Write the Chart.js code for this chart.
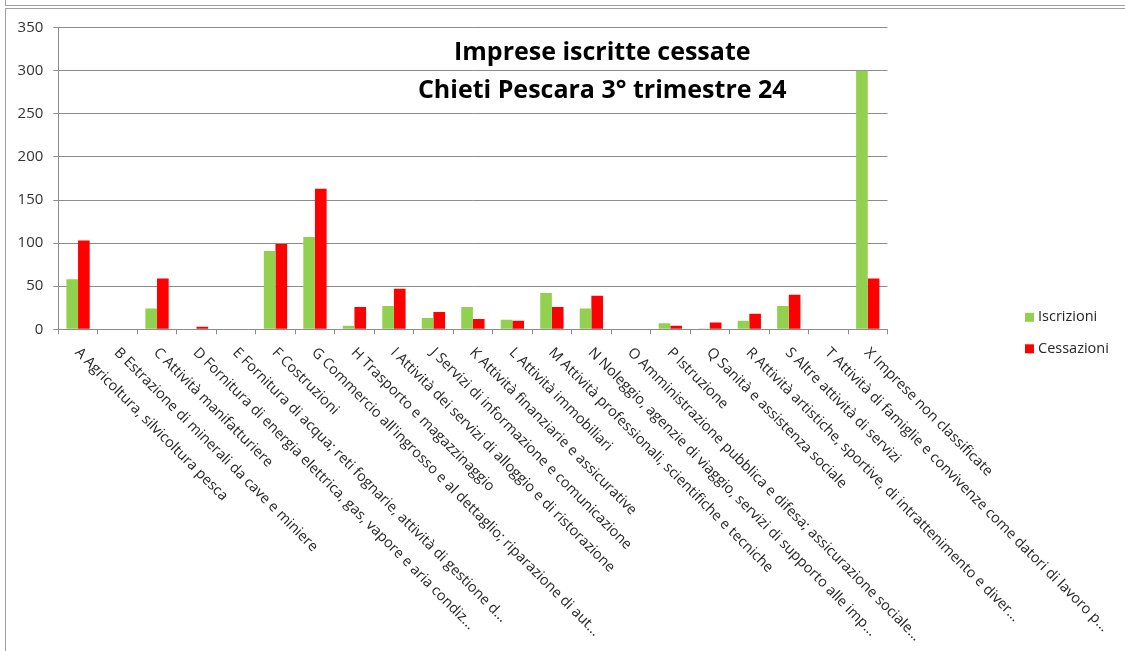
<!DOCTYPE html>
<html><head><meta charset="utf-8">
<script src="https://cdn.jsdelivr.net/npm/chart.js@4"></script>
<style>
html,body{margin:0;padding:0;background:#fff;}
#wrap{position:relative;width:1125px;height:651px;overflow:hidden;}
canvas{position:absolute;left:0;top:0;}
.ln{position:absolute;background:#a0a0a0;}
</style></head><body>
<div id="wrap">
<canvas id="c" width="1125" height="651"></canvas>
<div class="ln" style="left:5px;top:5px;width:1120px;height:1px"></div>
<div class="ln" style="left:5px;top:0;width:1px;height:5px"></div>
<div class="ln" style="left:5px;top:8px;width:1120px;height:1px"></div>
<div class="ln" style="left:5px;top:8px;width:1px;height:643px"></div>
</div>
<script>
const categories = [
  "A Agricoltura, silvicoltura pesca",
  "B Estrazione di minerali da cave e miniere",
  "C Attività manifatturiere",
  "D Fornitura di energia elettrica, gas, vapore e aria condiz...",
  "E Fornitura di acqua; reti fognarie, attività di gestione d...",
  "F Costruzioni",
  "G Commercio all'ingrosso e al dettaglio; riparazione di aut...",
  "H Trasporto e magazzinaggio",
  "I Attività dei servizi di alloggio e di ristorazione",
  "J Servizi di informazione e comunicazione",
  "K Attività finanziarie e assicurative",
  "L Attività immobiliari",
  "M Attività professionali, scientifiche e tecniche",
  "N Noleggio, agenzie di viaggio, servizi di supporto alle imp...",
  "O Amministrazione pubblica e difesa; assicurazione sociale...",
  "P Istruzione",
  "Q Sanità e assistenza sociale",
  "R Attività artistiche, sportive, di intrattenimento e diver...",
  "S Altre attività di servizi",
  "T Attività di famiglie e convivenze come datori di lavoro p...",
  "X Imprese non classificate"
];
const iscrizioni = [58, 0, 24, 0, 0, 91, 107, 4, 27, 13, 26, 11, 42, 24, 0, 7, 1, 10, 27, 0, 300];
const cessazioni = [103, 0, 59, 3, 0, 99, 163, 26, 47, 20, 12, 10, 26, 39, 0, 4, 8, 18, 40, 0, 59];
const seriesNames = ["Iscrizioni", "Cessazioni"];
const yMin = 0, yMax = 350, yStep = 50;
const titleLines = ["Imprese iscritte cessate", "Chieti Pescara 3° trimestre 24"];

const GREEN = '#92D050', RED = '#FF0000', GRID = '#8c8c8c';

const extras = {
  id: 'extras',
  afterDraw(chart) {
    const ctx = chart.ctx, xs = chart.scales.x, a = chart.chartArea;
    // rotated category labels
    ctx.save();
    ctx.font = '14.5px "Open Sans"';
    ctx.fillStyle = '#262626';
    ctx.textAlign = 'left';
    ctx.textBaseline = 'middle';
    categories.forEach((lab, i) => {
      const px = xs.getPixelForValue(i);
      ctx.save();
      ctx.translate(px - 1, a.bottom + 21);
      ctx.rotate(Math.PI / 4);
      ctx.fillText(lab, 0, 0);
      ctx.restore();
    });
    ctx.restore();
    // title
    ctx.save();
    ctx.font = 'bold 25px "Open Sans"';
    ctx.fillStyle = '#000';
    ctx.textAlign = 'center';
    ctx.textBaseline = 'alphabetic';
    const cx = a.left + (a.right - a.left) * 0.656;
    ctx.fillText(titleLines[0], cx, a.top + 32.5);
    ctx.fillText(titleLines[1], cx, a.top + 70.5);
    ctx.restore();
    // legend
    ctx.save();
    ctx.font = '14.5px "Open Sans"';
    ctx.fillStyle = '#262626';
    ctx.textAlign = 'left';
    ctx.textBaseline = 'middle';
    chart.data.datasets.forEach((ds, i) => {
      const y = a.bottom - 12 + i * 31.5;
      const x = a.right + 137.5;
      ctx.fillStyle = ds.backgroundColor;
      ctx.fillRect(x, y - 4.5, 9, 9);
      ctx.fillStyle = '#262626';
      ctx.fillText(ds.label, x + 13, y);
    });
    ctx.restore();
  }
};

new Chart(document.getElementById('c'), {
  type: 'bar',
  data: {
    labels: categories,
    datasets: [
      { label: seriesNames[0], data: iscrizioni, backgroundColor: GREEN, borderWidth: 0 },
      { label: seriesNames[1], data: cessazioni, backgroundColor: RED, borderWidth: 0 }
    ]
  },
  options: {
    responsive: false,
    animation: false,
    devicePixelRatio: 1,
    categoryPercentage: 0.59,
    barPercentage: 1.0,
    layout: { padding: { left: 0, top: 27.7, right: 237.5, bottom: 316.7 } },
    plugins: { legend: { display: false }, title: { display: false }, tooltip: { enabled: false } },
    scales: {
      x: {
        ticks: { display: false },
        grid: { display: true, drawOnChartArea: false, drawTicks: true, tickLength: 5, color: GRID, offset: true },
        border: { display: true, color: GRID }
      },
      y: {
        min: yMin, max: yMax,
        ticks: { stepSize: yStep, color: '#333', font: { family: 'Open Sans', size: 15 }, padding: 10 },
        grid: { color: GRID, tickLength: 5 },
        border: { display: true, color: GRID },
        afterFit(scale) { scale.width = 58.3; }
      }
    }
  },
  plugins: [extras]
});
</script>
</body></html>
